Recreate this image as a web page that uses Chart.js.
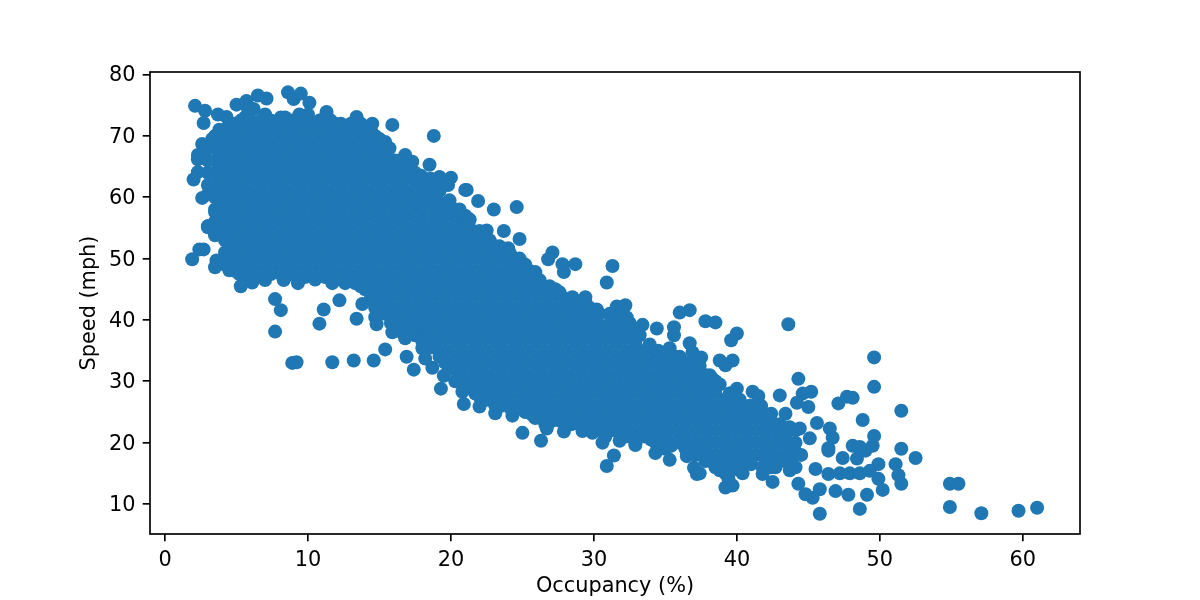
<!DOCTYPE html>
<html><head><meta charset="utf-8">
<script src="https://cdn.jsdelivr.net/npm/chart.js@4"></script>
<style>html,body{margin:0;padding:0;background:#fff}canvas{display:block}</style>
</head><body><canvas id="c" width="1200" height="600"></canvas>
<script>
const xTickValues = [0,10,20,30,40,50,60];
const yTickValues = [10,20,30,40,50,60,70,80];
const xAxisTitle = "Occupancy (%)";
const yAxisTitle = "Speed (mph)";

// Edge and isolated readings: [occupancy, speed]
const freeFlowEdge = [[2.1,74.9],[2.8,74.1],[2.7,72.1],[3.7,73.5],[4.3,73.1],[5,75.1],[5.7,75.7],[5.8,74.4],[6.5,76.6],[7.1,76.1],[6.2,74.4],[7,73.5],[8.1,73],[8.6,77.1],[9,76],[9.5,76.9],[10.1,75.4],[9.4,73.5],[10,73.5],[11.3,73.9],[13.4,73.1],[14.5,72],[15.9,71.8],[18.8,70],[15.2,67.6],[16.8,66.9],[17.3,65.8],[18.5,65.3],[19.2,63.3],[20,63.2],[19.8,62],[21,61.2],[19.9,58.9],[20.4,57.8],[21.3,56.3],[2.6,68.7],[2.3,66.9],[2.3,66.2],[2.3,64.1],[2,62.9],[2.6,59.9],[3.5,57.6],[3,55.3],[3,55.1],[3.5,53.8],[2.4,51.5],[2.7,51.5],[1.9,49.9],[3.6,49.7],[3.5,48.6],[4.5,48.1],[5.3,45.5],[6.1,46.1],[7,46.5],[8.3,46.5],[9.3,46],[10.5,46.6],[11.7,46],[12.6,46]];
const lowSpeedStragglers = [[7.7,43.4],[8.1,41.6],[11.1,41.7],[12.2,43.2],[10.8,39.4],[13.4,40.2],[7.7,38.1],[8.9,33],[9.2,33.1],[11.7,33.1],[13.2,33.4],[14.6,33.4],[15.4,35.2],[16.9,34],[17.4,31.9],[13.8,42.6],[14.7,40.5],[14.8,39.3],[15.9,38],[16.6,38],[17.5,37.5],[18,35.4],[18.2,33.7],[18.7,32.2],[19.5,30.9]];
const transitionUpperEdge = [[21.1,61.2],[21.9,59.4],[23,58],[24.6,58.4],[21.3,56.4],[22.5,54.6],[23.7,54.5],[24.8,53.2],[24,51.7],[27.1,51],[26.8,49.9],[27.8,49.1],[28.7,49.1],[27.9,47.8],[31.3,48.8],[30.9,46.1],[25,49.3],[25.9,47.8],[26.1,46.5],[27.3,45],[28.5,43.7],[29.4,43.7],[30.2,41.7],[31.6,42.2],[32.2,42.4],[32.3,40.4],[33.4,39.2],[34.4,38.6],[35.6,38.8],[35.6,37.5],[36,41.2],[36.7,41.6],[37.8,39.8],[38.5,39.6],[36.7,36.2],[35.3,35.4],[34.5,35],[37.5,33.9],[36.9,34.7],[38.8,33.4],[39.7,33.4],[39.2,32.6],[40,37.8],[39.6,36.7],[38.3,30.4],[43.6,39.3]];
const transitionLowerEdge = [[19.3,28.8],[20.8,28.3],[20.9,26.3],[22,25.9],[23.1,24.8],[24.3,24.4],[25,21.6],[26.3,20.3],[26.7,22.3],[27.9,21.8],[29.2,21.9],[29.9,21.6],[30.6,20],[31.4,17.9],[30.9,16.2],[32.9,19.6],[31.8,20.3],[34.3,18.3],[35.3,17.2],[36.5,17.8],[37,15.9],[37.2,14.9],[37.4,15]];
const congestedTail = [[49.6,33.9],[49.6,29.1],[51.5,25.2],[44.3,30.4],[43,27.7],[45.2,28.3],[44.6,28],[47.1,26.4],[47.7,27.5],[48.1,27.3],[48.8,23.7],[49.6,21.1],[49.5,19.5],[51.5,19],[48.1,19.5],[48.6,19.3],[46.5,22.3],[46.7,20.8],[46.4,19.1],[45.6,23.2],[40,28.8],[39.5,28],[41.1,28.3],[41.5,27.6],[41.7,26],[42.4,24.7],[43.4,24.7],[44.2,26.5],[45,25.8],[44.4,22.3],[45.1,20.7],[52.5,17.5],[49,18.7],[47.4,17.5],[48.4,17.4],[46.4,18.7],[49.9,16.5],[51.1,16.5],[51.3,14.7],[51.5,13.3],[50.2,12.3],[49.9,14.1],[49.1,11.5],[47.8,11.5],[48.6,9.2],[45.8,8.4],[46.9,12.1],[45.8,12.4],[45.3,11],[44.8,11.6],[44.3,13.3],[45.5,15.7],[46.4,14.9],[47.2,15],[47.9,15],[48.6,15],[49.3,15.4],[42.5,13.6],[41.8,14.9],[39.7,13],[39.2,12.7],[39.4,14.2],[40.4,15],[54.9,13.3],[55.5,13.3],[54.9,9.5],[57.1,8.5],[59.7,8.9],[61,9.4],[44,19],[43.8,17],[44.5,18]];
// Estimated rims of the solid mass
const massUpperRim = [[4.5,72],[5.3,72.5],[6,72.5],[6.7,72.5],[7.4,72.5],[8.8,72.5],[10.8,72.5],[11.6,72.5],[12.3,72],[13,72],[13.7,72],[14.4,71],[15,69.5],[15.7,68],[16.4,66],[17.1,65],[17.9,63.5],[18.6,63],[19.2,61],[19.9,59.5],[20.6,58],[21.3,55],[22,54.5],[22.7,53],[23.4,52],[24.1,51],[24.8,50],[25.5,48],[26.2,46.5],[26.9,45.5],[27.6,44.5],[28.3,43.5],[29,43],[29.7,42],[30.4,41],[31.1,41],[31.8,40.5],[32.5,39.5],[33.2,37.5],[33.9,36],[34.6,34.5],[35.3,34],[36,34],[36.7,33],[37.4,32.5],[38.1,31],[38.8,29.5],[39.5,28],[40.2,27],[40.9,26],[41.6,25],[42.3,24],[43,23],[43.7,22.5]];
const massLowerRim = [[4.6,48.5],[5.2,47.5],[6,47.5],[6.7,47.5],[7.4,47.5],[8.1,47.5],[8.8,47.5],[9.5,47.5],[10.2,47.5],[10.9,47.5],[11.6,47.5],[12.3,47],[13,47],[13.7,45.5],[14.4,43.5],[15,41],[15.8,39.5],[16.4,39],[17.2,38],[18,36.5],[18.6,35.5],[19.2,34],[19.9,32],[20.6,30],[21.3,29],[22,27.5],[22.7,27],[23.5,26],[24.2,25.5],[25,25.5],[25.7,24.5],[26.4,24],[27,23.5],[27.7,23.5],[28.4,23],[29,23],[29.7,23],[30.4,22.5],[31.2,22],[32,22],[32.6,21],[33.3,21],[34,20.5],[34.7,20],[35.4,19.5],[36,20],[36.8,18.5],[37.5,18],[38.2,17],[38.8,15.5],[39.5,15.5],[40.2,15.5],[41,16.5],[41.8,16],[42.4,16],[43,17],[43.7,15.5]];
const massLeftRim = [[3,60.5],[3,62],[3,64],[3,66],[3,68],[3.3,69.5],[3.8,71]];

// Solid core, too dense to separate single dots: estimated [occupancy, [speeds]]
const denseCore = [
[3.5,[54,56,58,60,62,64,66,68,70]],
[4.2,[49,51,53,55,57,59,61,63,65,67,69,71]],
[4.9,[48,50,52,54,56,58,60,62,64,66,68,70,72]],
[5.6,[47,49,51,53,55,57,59,61,63,65,67,69,71,73]],
[6.3,[48,50,52,54,56,58,60,62,64,66,68,70,72]],
[7.0,[47,49,51,53,55,57,59,61,63,65,67,69,71,73]],
[7.7,[48,50,52,54,56,58,60,62,64,66,68,70,72]],
[8.4,[47,49,51,53,55,57,59,61,63,65,67,69,71,73]],
[9.1,[48,50,52,54,56,58,60,62,64,66,68,70,72]],
[9.8,[47,49,51,53,55,57,59,61,63,65,67,69,71,73]],
[10.5,[48,50,52,54,56,58,60,62,64,66,68,70,72]],
[11.2,[47,49,51,53,55,57,59,61,63,65,67,69,71,73]],
[11.9,[48,50,52,54,56,58,60,62,64,66,68,70,72]],
[12.6,[47,49,51,53,55,57,59,61,63,65,67,69,71]],
[13.3,[46,48,50,52,54,56,58,60,62,64,66,68,70,72]],
[14.0,[45,47,49,51,53,55,57,59,61,63,65,67,69,71]],
[14.7,[42,44,46,48,50,52,54,56,58,60,62,64,66,68,70]],
[15.4,[41,43,45,47,49,51,53,55,57,59,61,63,65,67,69]],
[16.1,[40,42,44,46,48,50,52,54,56,58,60,62,64,66]],
[16.8,[37,39,41,43,45,47,49,51,53,55,57,59,61,63,65]],
[17.5,[38,40,42,44,46,48,50,52,54,56,58,60,62,64]],
[18.2,[37,39,41,43,45,47,49,51,53,55,57,59,61,63]],
[18.9,[36,38,40,42,44,46,48,50,52,54,56,58,60,62]],
[19.6,[33,35,37,39,41,43,45,47,49,51,53,55,57,59]],
[20.3,[30,32,34,36,38,40,42,44,46,48,50,52,54,56,58]],
[21.0,[29,31,33,35,37,39,41,43,45,47,49,51,53,55,57]],
[21.7,[28,30,32,34,36,38,40,42,44,46,48,50,52,54]],
[22.4,[27,29,31,33,35,37,39,41,43,45,47,49,51,53]],
[23.1,[26,28,30,32,34,36,38,40,42,44,46,48,50,52]],
[23.8,[27,29,31,33,35,37,39,41,43,45,47,49,51]],
[24.5,[26,28,30,32,34,36,38,40,42,44,46,48,50]],
[25.2,[25,27,29,31,33,35,37,39,41,43,45,47,49]],
[25.9,[24,26,28,30,32,34,36,38,40,42,44,46]],
[26.6,[23,25,27,29,31,33,35,37,39,41,43,45]],
[27.3,[24,26,28,30,32,34,36,38,40,42,44]],
[28.0,[23,25,27,29,31,33,35,37,39,41,43]],
[28.7,[24,26,28,30,32,34,36,38,40,42]],
[29.4,[23,25,27,29,31,33,35,37,39,41,43]],
[30.1,[22,24,26,28,30,32,34,36,38,40]],
[30.8,[21,23,25,27,29,31,33,35,37,39]],
[31.5,[22,24,26,28,30,32,34,36,38,40]],
[32.2,[21,23,25,27,29,31,33,35,37,39]],
[32.9,[20,22,24,26,28,30,32,34,36,38]],
[33.6,[21,23,25,27,29,31,33,35]],
[34.3,[20,22,24,26,28,30,32,34]],
[35.0,[19,21,23,25,27,29,31,33]],
[35.7,[20,22,24,26,28,30,32,34]],
[36.4,[19,21,23,25,27,29,31,33]],
[37.1,[18,20,22,24,26,28,30,32]],
[37.8,[17,19,21,23,25,27,29,31]],
[38.5,[16,18,20,22,24,26,28,30]],
[39.2,[15,17,19,21,23,25,27]],
[39.9,[16,18,20,22,24,26]],
[40.6,[17,19,21,23,25]],
[41.3,[18,20,22,24]],
[42.0,[17,19,21,23]],
[42.7,[16,18,20,22]],
[43.4,[17,19,21]],
[44.1,[16,18,20,22]]
];

const edgePoints = [...freeFlowEdge,...lowSpeedStragglers,...transitionUpperEdge,...transitionLowerEdge,...congestedTail,...massUpperRim,...massLowerRim,...massLeftRim];
const corePoints = denseCore.flatMap(([occ,speeds])=>speeds.map(s=>[occ,s]));
const tableData = [...corePoints,...edgePoints].map(([x,y])=>({x,y}));

const FONT = "'DejaVu Sans'";
const frame = {id:'frame',afterDraw(ch){const a=ch.chartArea,c=ch.ctx;c.save();c.strokeStyle='#000';c.lineWidth=1.67;c.strokeRect(a.left,a.top,a.right-a.left,a.bottom-a.top);c.restore();}};
const whiteBg = {id:'bg',beforeDraw(ch){const c=ch.ctx;c.save();c.fillStyle='#fff';c.fillRect(0,0,ch.width,ch.height);c.restore();}};
const tickStyle = {drawOnChartArea:false,drawTicks:true,tickLength:7.3,color:'#000',lineWidth:1.67};
new Chart(document.getElementById('c'),{
  type:'scatter',
  data:{datasets:[{data:tableData,backgroundColor:'#1f77b4',borderWidth:0,pointRadius:7,pointHoverRadius:7}]},
  plugins:[whiteBg,frame],
  options:{
    responsive:false,animation:false,
    layout:{padding:{top:72,right:120,left:0,bottom:0}},
    plugins:{legend:{display:false},tooltip:{enabled:false}},
    scales:{
      x:{type:'linear',min:-1.05,max:64,
        afterBuildTicks(s){s.ticks=xTickValues.map(v=>({value:v}));},
        afterFit(s){s.height=66;},
        grid:tickStyle,border:{display:false},
        ticks:{color:'#000',font:{family:FONT,size:20.83},padding:6.5,maxRotation:0,autoSkip:false},
        title:{display:true,text:xAxisTitle,color:'#000',font:{family:FONT,size:20.83},padding:{top:2,bottom:1}}},
      y:{type:'linear',min:5.11,max:80.42,
        afterBuildTicks(s){s.ticks=yTickValues.map(v=>({value:v}));},
        afterFit(s){s.width=150;},
        grid:tickStyle,border:{display:false},
        ticks:{color:'#000',font:{family:FONT,size:20.83},padding:7.3,labelOffset:1.5,autoSkip:false},
        title:{display:true,text:yAxisTitle,color:'#000',font:{family:FONT,size:20.83},padding:{top:77.5,bottom:0}}}
    }
  }
});
</script></body></html>
